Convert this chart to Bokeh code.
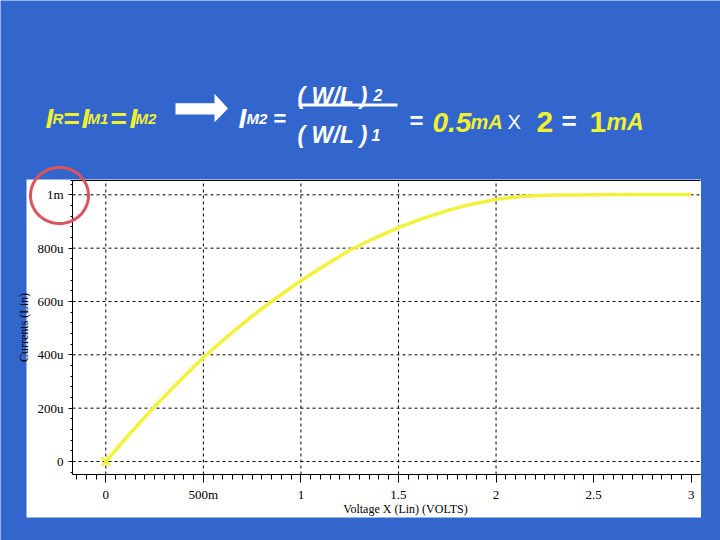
import numpy as np
from bokeh.plotting import figure
from bokeh.models import Range1d, FixedTicker, LinearAxis, Label, BoxAnnotation, PolyAnnotation
from bokeh.embed import file_html
from bokeh.resources import INLINE

# ---- data ----
voltage = [0.0, 0.125, 0.25, 0.375, 0.5, 0.625, 0.75, 0.875, 1.0, 1.125, 1.25,
           1.375, 1.5, 1.625, 1.75, 1.875, 2.0, 2.125, 2.25, 2.5, 2.75, 3.0]
current_uA = [0, 106, 206, 300, 390, 470, 545, 614, 678, 737, 792,
              837, 877, 912, 941, 965, 983, 994, 998, 1000, 1001, 1001]

x_ticks = [0, 0.5, 1, 1.5, 2, 2.5, 3]
x_tick_labels = ["0", "500m", "1", "1.5", "2", "2.5", "3"]
x_grid_ticks = [0, 0.5, 1, 1.5, 2]
y_ticks = [0, 200, 400, 600, 800, 1000]
y_tick_labels = ["0", "200u", "400u", "600u", "800u", "1m"]
x_title = "Voltage X (Lin) (VOLTS)"
y_title = "Currents (Lin)"

# ---- layout ----
BLUE = "#3366CC"
YEL = "#F0F032"
CURVE = "#F2F23C"
W, H = 720, 540

# pixel calibration of the chart (slide pixels)
X0PX, PXV = 105.3, 195.13     # x pixel of 0 V, pixels per volt
Y0PX, PXU = 461.0, 0.26667    # y pixel of 0 A, pixels per uA


def x_of(px):
    return (px - X0PX) / PXV


def y_of(py):
    return (Y0PX - py) / PXU


def sx(X):
    return X


def sy(Y):
    return H - Y


CL, CR, CT, CB = 72, 700, 180, 474   # chart plot area in slide pixels
xb = (x_of(CL), x_of(CR))
yb = (y_of(CB), y_of(CT))

p = figure(width=W, height=H, output_backend="svg", toolbar_location=None,
           x_range=Range1d(x_of(0), x_of(W)), y_range=Range1d(y_of(H), y_of(0)),
           x_axis_location=None, y_axis_location=None, min_border=0,
           background_fill_color=BLUE, border_fill_color=BLUE)
p.outline_line_color = None
p.grid.visible = False

# white panel behind the chart and its axes
p.add_layout(BoxAnnotation(left=sx(26), right=sx(700.5), top=sy(179), bottom=sy(517),
                           left_units="screen", right_units="screen",
                           top_units="screen", bottom_units="screen",
                           fill_color="white", fill_alpha=1, line_color=None,
                           level="image"))

# axes
xa = LinearAxis(ticker=FixedTicker(ticks=x_ticks,
                                   minor_ticks=[round(-0.15 + 0.05 * i, 2) for i in range(64)]),
                major_label_overrides=dict(zip(x_ticks, x_tick_labels)),
                fixed_location=yb[0], bounds=xb)
ya = LinearAxis(ticker=FixedTicker(ticks=y_ticks, minor_ticks=[-40 + 40 * i for i in range(28)]),
                major_label_overrides=dict(zip(y_ticks, y_tick_labels)),
                fixed_location=xb[0], bounds=yb)
# carries the x title (centred a little right of the plot centre, as in the original)
xt = LinearAxis(ticker=FixedTicker(ticks=[]), major_tick_out=0, minor_tick_out=0,
                axis_line_color=None, fixed_location=yb[0],
                bounds=(x_of(110), x_of(700)))

for ax in (xa, ya, xt):
    ax.axis_line_color = "black" if ax is not xt else None
    ax.major_tick_line_color = "black"
    ax.minor_tick_line_color = "black"
    ax.major_tick_in = 0
    ax.minor_tick_in = 0
    ax.major_label_text_font = "Liberation Serif"
    ax.major_label_text_font_size = "13px"
    ax.major_label_text_color = "black"
    ax.axis_label_text_font = "Liberation Serif"
    ax.axis_label_text_font_size = "12px"
    ax.axis_label_text_font_style = "normal"
    ax.axis_label_text_color = "black"

xa.major_tick_out = 8
xa.minor_tick_out = 5
xa.major_label_standoff = 4

xt.axis_label = x_title
xt.axis_label_standoff = 27

ya.axis_label = y_title
ya.major_tick_out = 4
ya.minor_tick_out = 2
ya.major_label_standoff = 5
ya.axis_label_standoff = 4

p.add_layout(xa, "below")
p.add_layout(xt, "below")
p.add_layout(ya, "left")

top_axis = LinearAxis(ticker=FixedTicker(ticks=[]), major_tick_out=0, minor_tick_out=0,
                      major_label_text_font_size="0px", axis_line_color="black",
                      fixed_location=yb[1], bounds=(x_of(70), xb[1]))
p.add_layout(top_axis, "above")

# dashed grid lines at the tick positions
p.segment(x0=x_grid_ticks, x1=x_grid_ticks, y0=[yb[0]] * len(x_grid_ticks),
          y1=[yb[1]] * len(x_grid_ticks), line_color="black", line_dash="3 3", line_width=1)
p.segment(x0=[xb[0]] * len(y_ticks), x1=[xb[1]] * len(y_ticks), y0=y_ticks, y1=y_ticks,
          line_color="black", line_dash="3 3", line_width=1)

# data
p.line(voltage, current_uA, line_color=CURVE, line_width=3.5)
p.scatter([voltage[0]], [current_uA[0]], marker="x", size=12,
          line_color=CURVE, line_width=2.5)

# formula texts: (text, left x, baseline y, size, style, color)
texts = [
    ("I", 45, 117.5, 28, "bold italic", YEL),
    ("R", 52, 117.5, 15, "bold italic", YEL),
    ("=", 63, 117.5, 28, "bold", YEL),
    ("I", 81, 117.5, 28, "bold italic", YEL),
    ("M1", 87, 117.5, 15, "bold italic", YEL),
    ("=", 110, 117.5, 28, "bold", YEL),
    ("I", 129, 117.5, 28, "bold italic", YEL),
    ("M2", 135, 117.5, 15, "bold italic", YEL),
    ("I", 238, 117.5, 28, "bold italic", "white"),
    ("M2", 246, 117.5, 15, "bold italic", "white"),
    ("=", 273, 117.5, 22, "bold", "white"),
    ("( W/L )", 297, 95, 23, "bold italic", "white"),
    ("2", 373, 94, 16, "bold italic", "white"),
    ("( W/L )", 297, 134, 23, "bold italic", "white"),
    ("1", 371, 134, 16, "bold italic", "white"),
    ("=", 409, 120, 24, "bold", "white"),
    ("0.5", 432, 121.7, 28, "bold italic", YEL),
    ("mA", 470, 121.7, 20, "bold italic", YEL),
    ("X", 507, 121.7, 20, "normal", "white"),
    ("2", 536, 121.7, 30, "bold", YEL),
    ("=", 561, 120, 26, "bold", "white"),
    ("1", 589, 121.7, 30, "bold", YEL),
    ("mA", 606, 121.7, 23, "bold italic", YEL),
]
for t, X, Y, size, style, color in texts:
    p.add_layout(Label(x=sx(X), y=sy(Y), x_units="screen", y_units="screen", text=t,
                       text_font="Liberation Sans", text_font_size=f"{size}px",
                       text_font_style=style, text_color=color,
                       text_align="left", text_baseline="alphabetic"))

# white arrow
arrow_x = [175, 214, 214, 227.5, 214, 214, 175]
arrow_y = [102.7, 102.7, 93.3, 108, 121.7, 114, 114]
p.add_layout(PolyAnnotation(xs=[sx(v) for v in arrow_x], ys=[sy(v) for v in arrow_y],
                            xs_units="screen", ys_units="screen",
                            fill_color="white", fill_alpha=1, line_color=None,
                            level="annotation"))

# fraction bar
p.add_layout(BoxAnnotation(left=sx(298), right=sx(397), top=sy(103), bottom=sy(106),
                           left_units="screen", right_units="screen",
                           top_units="screen", bottom_units="screen",
                           fill_color="white", fill_alpha=1, line_color=None,
                           level="annotation"))

# red highlight ellipse around the "1m" label
th = np.linspace(0, 2 * np.pi, 90)
ex = 59 + 29 * np.cos(th)
ey = 195 + 28 * np.sin(th)
p.add_layout(PolyAnnotation(xs=[sx(v) for v in ex], ys=[sy(v) for v in ey],
                            xs_units="screen", ys_units="screen",
                            fill_alpha=0, line_color="#D9545C", line_alpha=1,
                            line_width=3, level="overlay"))

open("out.html", "w").write(file_html(p, INLINE))
